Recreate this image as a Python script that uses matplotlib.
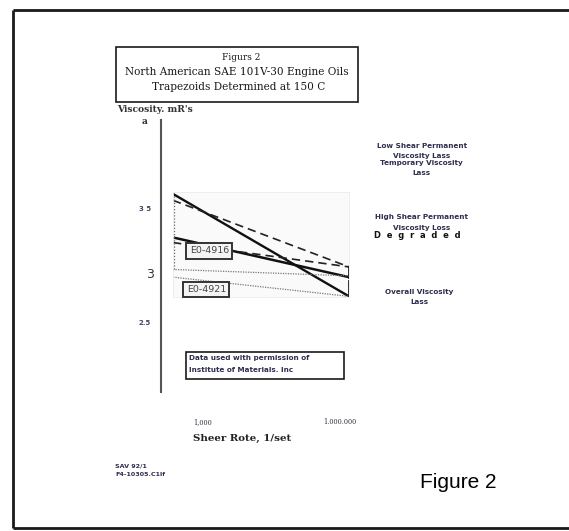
import matplotlib
matplotlib.use("Agg")
import matplotlib.pyplot as plt
import numpy as np

# ---- data ----
shear_rate = [1e3, 1e6]
steep_solid = [3.62, 2.82]
upper_dashed = [3.57, 3.05]
flat_solid = [3.28, 2.97]
lower_dashed = [3.24, 3.05]
upper_dotted = [3.03, 2.98]
lower_dotted = [2.97, 2.82]
right_side_top = [3.05, 2.96]
right_side_bottom = [2.94, 2.82]
left_side = [3.60, 3.03]
sample_labels = ["E0-4916", "E0-4921"]
sample_label_x = [4150, 3700]
sample_label_y = [3.175, 2.875]
y_tick_labels = ["3 5", "3", "2.5"]
x_tick_labels = ["1,000", "1.000.000"]

W, H = 569, 531
fig = plt.figure(figsize=(W / 100, H / 100), dpi=100)
ax = fig.add_axes([0, 0, 1, 1])
ax.set_xlim(0, W)
ax.set_ylim(H, 0)
ax.axis("off")

ink = "#1a1a1a"
blue_ink = "#2e2e4e"

# outer frame (left, top, bottom)
ax.plot([13, 13], [10, 528], color=ink, lw=2.0, solid_capstyle="butt")
ax.plot([13, W], [10, 10], color=ink, lw=2.0, solid_capstyle="butt")
ax.plot([13, W], [528, 528], color=ink, lw=2.0, solid_capstyle="butt")

serif = "DejaVu Serif"
# title box
ax.add_patch(plt.Rectangle((116, 47), 242, 55, fill=False, ec=ink, lw=1.2))
ax.text(241, 58, "Figurs 2", ha="center", va="center", fontsize=6.5, family=serif, color=ink)
ax.text(237, 72, "North American SAE 101V-30 Engine Oils", ha="center", va="center",
        fontsize=7.6, family=serif, color=ink)
ax.text(239, 87, "Trapezoids Determined at 150 C", ha="center", va="center",
        fontsize=7.6, family=serif, color=ink)

ax.text(117, 110, "Viscosity. mR's", ha="left", va="center", fontsize=6.6,
        family=serif, weight="bold", color="#333333")
ax.text(145, 122, "a", ha="center", va="center", fontsize=6.6, family=serif,
        weight="bold", color="#333333")

# vertical axis line
ax.plot([161, 161], [120, 392], color="#555555", lw=1.5)

# y tick labels (uneven spacing as in the scan)
ax.text(145, 209, y_tick_labels[0], ha="center", va="center", fontsize=5,
        weight="bold", color="#444466")
ax.text(150, 274, y_tick_labels[1], ha="center", va="center", fontsize=9,
        color="#333344")
ax.text(145, 323, y_tick_labels[2], ha="center", va="center", fontsize=5,
        weight="bold", color="#444466")

# right annotations
small = dict(ha="center", va="center", fontsize=5.2, weight="bold", color=blue_ink)
ax.text(422, 146, "Low Shear Permanent", **small)
ax.text(422, 156, "Viscosity Lass", **small)
ax.text(421, 163, "Temporary Viscosity", **small)
ax.text(421, 173, "Lass", **small)
ax.text(422, 217, "High Shear Permanent", **small)
ax.text(422, 228, "Viscosity Loss", **small)
ax.text(417, 236, "D  e  g  r  a  d  e  d", ha="center", va="center", fontsize=6,
        weight="bold", color="#111111")
ax.text(419, 292, "Overall Viscosity", **small)
ax.text(419, 302, "Lass", **small)

# permission box
ax.add_patch(plt.Rectangle((186, 352), 158, 27, fill=False, ec=ink, lw=1.2))
ax.text(189, 358, "Data used with permission of", ha="left", va="center",
        fontsize=5.2, weight="bold", color=blue_ink)
ax.text(189, 370, "Institute of Materials. Inc", ha="left", va="center",
        fontsize=5.2, weight="bold", color=blue_ink)

# x labels
ax.text(193, 422, x_tick_labels[0], ha="left", va="center", fontsize=4.8,
        family=serif, color="#333344")
ax.text(323, 422, x_tick_labels[1], ha="left", va="center", fontsize=4.8,
        family=serif, color="#333344")
ax.text(193, 438, "Sheer Rote, 1/set", ha="left", va="center", fontsize=7.4,
        family=serif, weight="bold", color="#222222")

# footer
ax.text(115, 466, "SAV 92/1", ha="left", va="center", fontsize=4.6,
        weight="bold", color=blue_ink)
ax.text(115, 474, "F4-10305.C1lf", ha="left", va="center", fontsize=4.6,
        weight="bold", color=blue_ink)
ax.text(420, 482, "Figure 2", ha="left", va="center", fontsize=15,
        family="Liberation Sans", color="black")

# ---- inner chart ----
x0, x1, y0, y1 = 173, 349, 192, 297
cax = fig.add_axes([x0 / W, 1 - y1 / H, (x1 - x0) / W, (y1 - y0) / H])
cax.set_xscale("log")
cax.set_xlim(1e3, 1e6)
cax.set_ylim(2.815, 3.635)
cax.set_facecolor("#fafafa")
for s in cax.spines.values():
    s.set_color("#ececec")
    s.set_linewidth(0.6)
cax.set_xticks([])
cax.set_yticks([])
cax.minorticks_off()
cax.tick_params(which="both", length=0, labelbottom=False, labelleft=False)

cax.plot(shear_rate, steep_solid, color="#111111", lw=1.7, solid_capstyle="butt")
cax.plot(shear_rate, flat_solid, color="#111111", lw=1.8, solid_capstyle="butt")
cax.plot(shear_rate, upper_dashed, color="#222222", lw=1.2, ls=(0, (5, 3)))
cax.plot(shear_rate, lower_dashed, color="#222222", lw=1.2, ls=(0, (5, 3)))
cax.plot(shear_rate, upper_dotted, color="#777777", lw=0.9, ls=(0, (1, 1)))
cax.plot(shear_rate, lower_dotted, color="#777777", lw=0.9, ls=(0, (1, 1)))
cax.plot([shear_rate[1]] * 2, right_side_top, color="#222222", lw=1.3)
cax.plot([shear_rate[1]] * 2, right_side_bottom, color="#222222", lw=1.3)
cax.plot([shear_rate[0] * 1.03] * 2, left_side, color="#666666", lw=0.9, ls=(0, (1, 1.5)))

for lab, lx, ly in zip(sample_labels, sample_label_x, sample_label_y):
    cax.text(lx, ly, lab, ha="center", va="center", fontsize=6.8, color="#444444",
             bbox=dict(boxstyle="square,pad=0.35", fc="#f4f4f4", ec="#333333", lw=1.4))

fig.savefig("out.png", dpi=100)
